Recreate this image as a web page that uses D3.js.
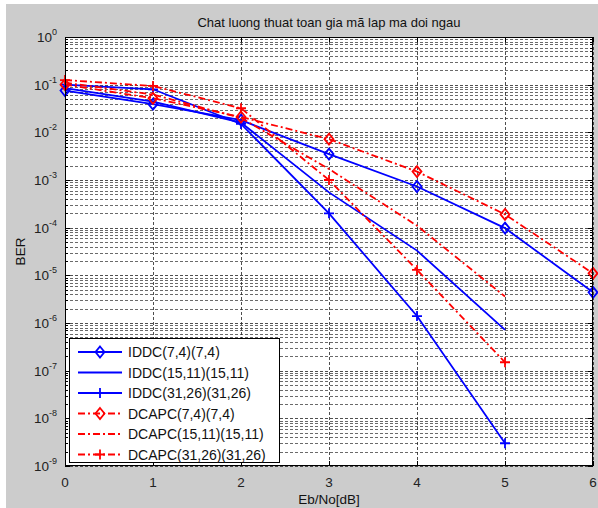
<!DOCTYPE html>
<html><head><meta charset="utf-8">
<script src="https://cdn.jsdelivr.net/npm/d3@7"></script>
<style>html,body{margin:0;padding:0;background:#fff;}svg{display:block;}</style>
</head><body>
<script>
// ---- data ----
const ebno = [0, 1, 2, 3, 4, 5, 6];
const iddc74    = [0.075, 0.039, 0.018, 3.5e-3, 7.3e-4, 9.8e-5, 4.4e-6];
const iddc1511  = [0.085, 0.044, 0.016, 5.5e-4, 3.3e-5, 7.2e-7];
const iddc3126  = [0.10, 0.080, 0.015, 2.0e-4, 1.4e-6, 3.0e-9];
const dcapc74   = [0.10, 0.052, 0.021, 7.2e-3, 1.5e-3, 1.9e-4, 1.1e-5];
const dcapc1511 = [0.11, 0.062, 0.020, 1.7e-3, 1.1e-4, 3.6e-6];
const dcapc3126 = [0.125, 0.094, 0.032, 1.0e-3, 1.3e-5, 1.5e-7];
const seriesNames = ["IDDC(7,4)(7,4)", "IDDC(15,11)(15,11)", "IDDC(31,26)(31,26)",
                     "DCAPC(7,4)(7,4)", "DCAPC(15,11)(15,11)", "DCAPC(31,26)(31,26)"];
const xTicks = [0, 1, 2, 3, 4, 5, 6];
const yExponents = [0, -1, -2, -3, -4, -5, -6, -7, -8, -9];
const titleText = "Chat luong thuat toan gia mã lap ma doi ngau";
const xLabel = "Eb/No[dB]";
const yLabel = "BER";

const series = [
  {name: seriesNames[0], values: iddc74,    color: "#0000ff", dash: null, marker: "diamond"},
  {name: seriesNames[1], values: iddc1511,  color: "#0000ff", dash: null, marker: null},
  {name: seriesNames[2], values: iddc3126,  color: "#0000ff", dash: null, marker: "plus"},
  {name: seriesNames[3], values: dcapc74,   color: "#ff0000", dash: "7,3,2,3", marker: "diamond"},
  {name: seriesNames[4], values: dcapc1511, color: "#ff0000", dash: "7,3,2,3", marker: null},
  {name: seriesNames[5], values: dcapc3126, color: "#ff0000", dash: "7,3,2,3", marker: "plus"}
];

// ---- layout ----
const W = 598, H = 508;
const pL = 65, pR = 593, pT = 37, pB = 466;
const font = "Liberation Sans, Arial, sans-serif";

const svg = d3.select("body").append("svg").attr("width", W).attr("height", H);
svg.append("rect").attr("x", 0).attr("y", 0).attr("width", W).attr("height", H).attr("fill", "#fff");
svg.append("rect").attr("x", 6).attr("y", 4).attr("width", W - 6).attr("height", H - 4).attr("fill", "#cccccc");

const x = d3.scaleLinear().domain([0, 6]).range([pL, pR]);
const y = d3.scaleLog().domain([1e-9, 1]).range([pB, pT]);

svg.append("rect").attr("x", pL).attr("y", pT).attr("width", pR - pL).attr("height", pB - pT).attr("fill", "#fff");

// grid
const grid = svg.append("g").attr("stroke", "#222").attr("stroke-width", 0.8).attr("stroke-dasharray", "3,2");
const minorVals = [];
for (let e = -9; e < 0; e++) for (let m = 2; m <= 9; m++) minorVals.push(m * Math.pow(10, e));
const majorVals = yExponents.map(e => Math.pow(10, e));
grid.selectAll("line.ymin").data(minorVals).join("line").attr("class", "ymin")
  .attr("x1", pL).attr("x2", pR).attr("y1", d => Math.round(y(d)) + 0.5).attr("y2", d => Math.round(y(d)) + 0.5)
  .attr("stroke", "#444");
grid.selectAll("line.ymaj").data(majorVals).join("line").attr("class", "ymaj")
  .attr("x1", pL).attr("x2", pR).attr("y1", d => Math.round(y(d)) + 0.5).attr("y2", d => Math.round(y(d)) + 0.5);
grid.selectAll("line.xg").data(xTicks).join("line").attr("class", "xg")
  .attr("y1", pT).attr("y2", pB).attr("x1", d => Math.round(x(d)) + 0.5).attr("x2", d => Math.round(x(d)) + 0.5);

// ticks (inside, all sides)
const ticks = svg.append("g").attr("stroke", "#000").attr("stroke-width", 1);
xTicks.forEach(t => {
  const px = Math.round(x(t)) + 0.5;
  ticks.append("line").attr("x1", px).attr("x2", px).attr("y1", pB).attr("y2", pB - 5);
  ticks.append("line").attr("x1", px).attr("x2", px).attr("y1", pT).attr("y2", pT + 5);
});
majorVals.forEach(v => {
  const py = Math.round(y(v)) + 0.5;
  ticks.append("line").attr("x1", pL).attr("x2", pL + 5).attr("y1", py).attr("y2", py);
  ticks.append("line").attr("x1", pR).attr("x2", pR - 5).attr("y1", py).attr("y2", py);
});
minorVals.forEach(v => {
  const py = Math.round(y(v)) + 0.5;
  ticks.append("line").attr("x1", pL).attr("x2", pL + 3).attr("y1", py).attr("y2", py);
  ticks.append("line").attr("x1", pR).attr("x2", pR - 3).attr("y1", py).attr("y2", py);
});

// series
const markerPath = {
  diamond: "M0,-5.5L4.5,0L0,5.5L-4.5,0Z",
  plus: "M-5,0H5M0,-5V5"
};
const line = d3.line().x((d, i) => x(ebno[i])).y(d => y(d));
const plotG = svg.append("g");
series.forEach(s => {
  plotG.append("path").datum(s.values).attr("d", line).attr("fill", "none")
    .attr("stroke", s.color).attr("stroke-width", 1.8)
    .attr("stroke-dasharray", s.dash);
  if (s.marker) {
    plotG.selectAll(null).data(s.values).join("path")
      .attr("transform", (d, i) => `translate(${x(ebno[i])},${y(d)})`)
      .attr("d", markerPath[s.marker]).attr("fill", "none")
      .attr("stroke", s.color).attr("stroke-width", 1.8);
  }
});

// axes box
svg.append("rect").attr("x", pL + 0.5).attr("y", pT + 0.5).attr("width", pR - pL - 1).attr("height", pB - pT - 1)
  .attr("fill", "none").attr("stroke", "#000").attr("stroke-width", 1);

// tick labels
svg.append("g").selectAll("text").data(xTicks).join("text")
  .attr("x", d => x(d)).attr("y", pB + 21).attr("text-anchor", "middle")
  .attr("font-family", font).attr("font-size", 13.5).attr("fill", "#222").text(d => d);

const yl = svg.append("g").attr("font-family", font).attr("fill", "#222");
yExponents.forEach(e => {
  const py = y(Math.pow(10, e));
  const t = yl.append("text").attr("x", 57).attr("y", py + 5).attr("text-anchor", "end").attr("font-size", 13.5);
  t.append("tspan").text("10");
  t.append("tspan").attr("dy", -7).attr("font-size", 9).text(String(e));
});

// labels
svg.append("text").attr("x", (pL + pR) / 2).attr("y", 27).attr("text-anchor", "middle")
  .attr("font-family", font).attr("font-size", 13).attr("fill", "#111").text(titleText);
svg.append("text").attr("x", (pL + pR) / 2).attr("y", 504).attr("text-anchor", "middle")
  .attr("font-family", font).attr("font-size", 13.5).attr("fill", "#111").text(xLabel);
svg.append("text").attr("transform", `translate(25,${(pT + pB) / 2}) rotate(-90)`).attr("text-anchor", "middle")
  .attr("font-family", font).attr("font-size", 13.5).attr("fill", "#111").text(yLabel);

// legend
const lgX = 69, lgY = 338, rowH = 20.5, lgW = 210, lgH = 124;
const lg = svg.append("g");
lg.append("rect").attr("x", lgX + 0.5).attr("y", lgY + 0.5).attr("width", lgW).attr("height", lgH)
  .attr("fill", "#fff").attr("stroke", "#000").attr("stroke-width", 1);
series.forEach((s, i) => {
  const cy = lgY + 14 + i * rowH;
  lg.append("line").attr("x1", lgX + 9).attr("x2", lgX + 53).attr("y1", cy).attr("y2", cy)
    .attr("stroke", s.color).attr("stroke-width", 1.8).attr("stroke-dasharray", s.dash);
  if (s.marker) lg.append("path").attr("transform", `translate(${lgX + 31},${cy})`).attr("d", markerPath[s.marker])
    .attr("fill", "none").attr("stroke", s.color).attr("stroke-width", 1.8);
  lg.append("text").attr("x", lgX + 59).attr("y", cy + 5).attr("font-family", font).attr("font-size", 14)
    .attr("fill", "#111").text(s.name);
});
</script>
</body></html>
